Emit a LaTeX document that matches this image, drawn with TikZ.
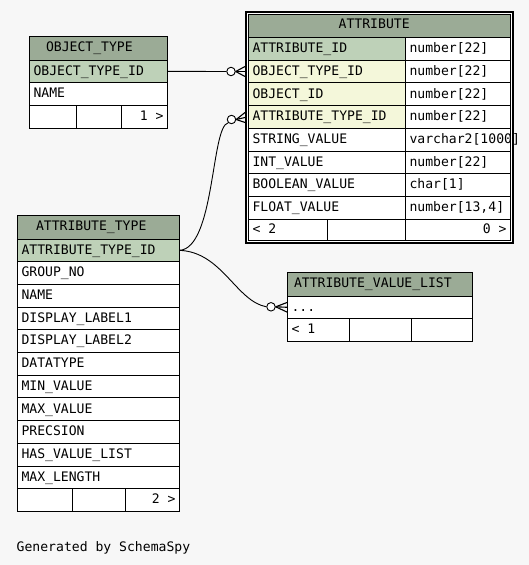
\documentclass[tikz,border=0pt]{standalone}
\usepackage{fontspec}
\newfontfamily\tabmono{DejaVu Sans Mono}
\newcommand{\tabfont}{\tabmono\fontsize{13.1}{15}\selectfont}
\definecolor{bgcol}{HTML}{F7F7F7}
\definecolor{hdrcol}{HTML}{9BAB96}
\definecolor{pkcol}{HTML}{BED1B8}
\definecolor{fkcol}{HTML}{F4F7DA}
\tikzset{
  cellbox/.style={draw=black, line width=1pt, inner sep=0pt, outer sep=0pt, anchor=north west},
  celltext/.style={anchor=base west, inner sep=0pt, outer sep=0pt, font=\tabfont},
  conn/.style={draw=black, line width=0.9pt},
  ocircle/.style={circle, draw=black, line width=0.9pt, fill=white, minimum size=8.5pt, inner sep=0pt},
  crowline/.style={draw=black, line width=1.1pt}
}
% name, x, y(top), width, height, fill, text
\newcommand{\tcell}[7]{%
  \node[cellbox, fill=#6, minimum width=#4, minimum height=#5] (#1) at (#2,#3) {};
  \node[celltext] (#1-t) at ([xshift=4pt,yshift=-3.8pt]#1.west) {#7};}
\newcommand{\rcell}[7]{%
  \node[cellbox, fill=#6, minimum width=#4, minimum height=#5] (#1) at (#2,#3) {};
  \node[celltext, anchor=base east] (#1-t) at ([xshift=-4pt,yshift=-3.8pt]#1.east) {#7};}
\newcommand{\ecell}[6]{%
  \node[cellbox, fill=#6, minimum width=#4, minimum height=#5] (#1) at (#2,#3) {};}
\begin{document}
\begin{tikzpicture}[x=1pt, y=-1pt]
\useasboundingbox (0,0) rectangle (529,565);
\fill[bgcol] (0,0) rectangle (529,565);

% ---------------- ATTRIBUTE (focused table) ----------------
\node[draw=black, line width=2pt, fill=white, inner sep=0pt, outer sep=0pt, anchor=north west,
      minimum width=267, minimum height=231] (attrframe) at (246,12) {};
\ecell{a-h}{248.5}{14.5}{262}{23}{hdrcol}
\node[celltext] (a-h-t) at (338.7,28.8) {ATTRIBUTE};
\tcell{a-id}{248.5}{37.5}{157}{22.7}{pkcol}{ATTRIBUTE\_ID}
\tcell{a-idT}{405.5}{37.5}{105}{22.7}{white}{number[22]}
\tcell{a-ot}{248.5}{60.2}{157}{22.7}{fkcol}{OBJECT\_TYPE\_ID}
\tcell{a-otT}{405.5}{60.2}{105}{22.7}{white}{number[22]}
\tcell{a-oi}{248.5}{82.9}{157}{22.7}{fkcol}{OBJECT\_ID}
\tcell{a-oiT}{405.5}{82.9}{105}{22.7}{white}{number[22]}
\tcell{a-at}{248.5}{105.6}{157}{22.7}{fkcol}{ATTRIBUTE\_TYPE\_ID}
\tcell{a-atT}{405.5}{105.6}{105}{22.7}{white}{number[22]}
\tcell{a-sv}{248.5}{128.3}{157}{22.7}{white}{STRING\_VALUE}
\tcell{a-svT}{405.5}{128.3}{105}{22.7}{white}{varchar2[1000]}
\tcell{a-iv}{248.5}{151}{157}{22.7}{white}{INT\_VALUE}
\tcell{a-ivT}{405.5}{151}{105}{22.7}{white}{number[22]}
\tcell{a-bv}{248.5}{173.7}{157}{22.7}{white}{BOOLEAN\_VALUE}
\tcell{a-bvT}{405.5}{173.7}{105}{22.7}{white}{char[1]}
\tcell{a-fv}{248.5}{196.4}{157}{22.7}{white}{FLOAT\_VALUE}
\tcell{a-fvT}{405.5}{196.4}{105}{22.7}{white}{number[13,4]}
\tcell{a-f1}{248.5}{219.1}{78.5}{21.4}{white}{< 2}
\ecell{a-f2}{327}{219.1}{78.5}{21.4}{white}
\rcell{a-f3}{405.5}{219.1}{105}{21.4}{white}{0 >}

% ---------------- OBJECT_TYPE ----------------
\ecell{o-h}{29.5}{36}{138}{24}{hdrcol}
\node[celltext] (o-h-t) at (46,51) {OBJECT\_TYPE};
\tcell{o-id}{29.5}{60}{138}{22.7}{pkcol}{OBJECT\_TYPE\_ID}
\tcell{o-nm}{29.5}{82.7}{138}{22.7}{white}{NAME}
\ecell{o-f1}{29.5}{105.4}{47}{22.7}{white}
\ecell{o-f2}{76.5}{105.4}{45}{22.7}{white}
\rcell{o-f3}{121.5}{105.4}{46}{22.7}{white}{1 >}

% ---------------- ATTRIBUTE_TYPE ----------------
\ecell{t-h}{17.5}{215}{162}{24}{hdrcol}
\node[celltext] (t-h-t) at (36,230.7) {ATTRIBUTE\_TYPE};
\tcell{t-id}{17.5}{239}{162}{22.7}{pkcol}{ATTRIBUTE\_TYPE\_ID}
\tcell{t-gn}{17.5}{261.7}{162}{22.7}{white}{GROUP\_NO}
\tcell{t-nm}{17.5}{284.4}{162}{22.7}{white}{NAME}
\tcell{t-d1}{17.5}{307.1}{162}{22.7}{white}{DISPLAY\_LABEL1}
\tcell{t-d2}{17.5}{329.8}{162}{22.7}{white}{DISPLAY\_LABEL2}
\tcell{t-dt}{17.5}{352.5}{162}{22.7}{white}{DATATYPE}
\tcell{t-mn}{17.5}{375.2}{162}{22.7}{white}{MIN\_VALUE}
\tcell{t-mx}{17.5}{397.9}{162}{22.7}{white}{MAX\_VALUE}
\tcell{t-pr}{17.5}{420.6}{162}{22.7}{white}{PRECSION}
\tcell{t-hv}{17.5}{443.3}{162}{22.7}{white}{HAS\_VALUE\_LIST}
\tcell{t-ml}{17.5}{466}{162}{22.7}{white}{MAX\_LENGTH}
\ecell{t-f1}{17.5}{488.7}{55}{22.7}{white}
\ecell{t-f2}{72.5}{488.7}{53}{22.7}{white}
\rcell{t-f3}{125.5}{488.7}{54}{22.7}{white}{2 >}

% ---------------- ATTRIBUTE_VALUE_LIST ----------------
\ecell{v-h}{287.5}{272.5}{185}{23.5}{hdrcol}
\node[celltext] (v-h-t) at (294,287.7) {ATTRIBUTE\_VALUE\_LIST};
\tcell{v-r}{287.5}{296}{185}{22.7}{white}{...}
\tcell{v-f1}{287.5}{318.7}{62}{22.7}{white}{< 1}
\ecell{v-f2}{349.5}{318.7}{62}{22.7}{white}
\ecell{v-f3}{411.5}{318.7}{61}{22.7}{white}

% ---------------- connectors ----------------
\node[ocircle] (c1) at (231,71.5) {};
\node[ocircle] (c2) at (231.5,119.5) {};
\node[ocircle] (c3) at (271,306.8) {};
\coordinate (c1end) at (245,71.5);
\coordinate (c2end) at (245,117.5);
\coordinate (c3end) at (287.5,307.3);

\draw[conn] (o-id.east) -- (c1.west);
\draw[conn] (t-id.east) .. controls (215,248) and (211,126) .. (c2.south west);
\draw[conn] (t-id.east) .. controls (222,252) and (236,301) .. (c3.west);

\draw[crowline] (c1.east) -- ([yshift=5pt]c1end);
\draw[crowline] (c1.east) -- (c1end);
\draw[crowline] (c1.east) -- ([yshift=-5pt]c1end);
\draw[crowline] (c2.east) -- ([yshift=5pt]c2end);
\draw[crowline] (c2.east) -- (c2end);
\draw[crowline] (c2.east) -- ([yshift=-5pt]c2end);
\draw[crowline] (c3.east) -- ([yshift=5pt]c3end);
\draw[crowline] (c3.east) -- (c3end);
\draw[crowline] (c3.east) -- ([yshift=-5pt]c3end);

\node[celltext] (gen) at (16.7,551.7) {Generated by SchemaSpy};
\end{tikzpicture}
\end{document}
